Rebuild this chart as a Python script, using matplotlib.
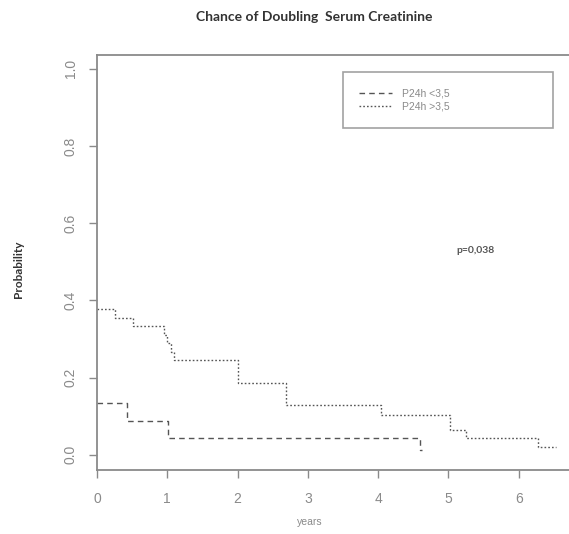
import matplotlib
matplotlib.use("Agg")
import matplotlib.pyplot as plt
from matplotlib.lines import Line2D

# P24h <3,5 group (dashed)
t_low = [0.0, 0.42, 1.01, 4.6]
p_low = [0.135, 0.088, 0.044, 0.013]
end_low = 4.62

# P24h >3,5 group (dotted)
t_high = [0.0, 0.26, 0.51, 0.95, 1.0, 1.05, 1.1, 2.0, 2.69, 4.04, 5.02, 5.25, 6.27]
p_high = [0.378, 0.355, 0.333, 0.311, 0.289, 0.267, 0.246, 0.187, 0.128, 0.104, 0.065, 0.044, 0.021]
end_high = 6.53

legend_labels = ["P24h <3,5", "P24h >3,5"]
x_ticks = [0, 1, 2, 3, 4, 5, 6]
y_ticks = [0.0, 0.2, 0.4, 0.6, 0.8, 1.0]

GRAY = "#8a8a8a"
LINE = "#555555"
TXT = "#8a8a8a"

plt.rcParams['font.family'] = ['Liberation Sans', 'DejaVu Sans']

fig = plt.figure(figsize=(5.69, 5.34), dpi=100)
ax = fig.add_axes([0.1705, 0.12, 0.835, 0.777])

ax.step(t_low + [end_low], p_low + [p_low[-1]], where='post',
        color=LINE, lw=1.0, linestyle=(0, (4, 3)))
ax.step(t_high + [end_high], p_high + [p_high[-1]], where='post',
        color=LINE, lw=1.0, linestyle=(0, (1.2, 1.5)))

ax.set_xlim(0, 6.76)
ax.set_ylim(-0.039, 1.036)
ax.set_xticks(x_ticks)
ax.set_yticks(y_ticks)
ax.set_xticklabels([str(v) for v in x_ticks], color=TXT, fontsize=10)
ax.set_yticklabels([f"{v:.1f}" for v in y_ticks], color=TXT, fontsize=10,
                   rotation=90, va='center')
ax.tick_params(direction='out', length=6, width=1.0, color=GRAY, pad=8)
ax.tick_params(axis='x', pad=10)
for s in ax.spines.values():
    s.set_color(GRAY)
    s.set_linewidth(1.3)

handles = [Line2D([], [], color=LINE, lw=1.0, linestyle=(0, (4, 3))),
           Line2D([], [], color=LINE, lw=1.0, linestyle=(0, (1.2, 1.5)))]
leg = ax.legend(handles, legend_labels, loc='upper left', mode='expand',
                bbox_to_anchor=(0.518, 0.824, 0.442, 0.135), fontsize=7.5,
                frameon=True, fancybox=False, handlelength=3.1,
                handletextpad=1.0, borderpad=1.55, labelspacing=0.35,
                borderaxespad=0)
leg.get_frame().set_edgecolor(GRAY)
leg.get_frame().set_linewidth(1.2)
for t in leg.get_texts():
    t.set_color(TXT)

ax.text(5.38, 0.53, "p=0,038", fontsize=7.5, fontweight='bold', color="#555555",
        va='center', ha='center', family='Lato')

fig.text(0.553, 0.968, "Chance of Doubling  Serum Creatinine", ha='center',
         va='center', fontsize=10, fontweight='bold', color="#333333",
         family='Lato')
fig.text(0.032, 0.495, "Probability", rotation=90, ha='center', va='center',
         fontsize=8.5, fontweight='bold', color="#333333", family='Lato')
fig.text(0.545, 0.022, "years", ha='center', va='center', fontsize=7.5,
         color=TXT)

fig.savefig("out.png", dpi=100)
